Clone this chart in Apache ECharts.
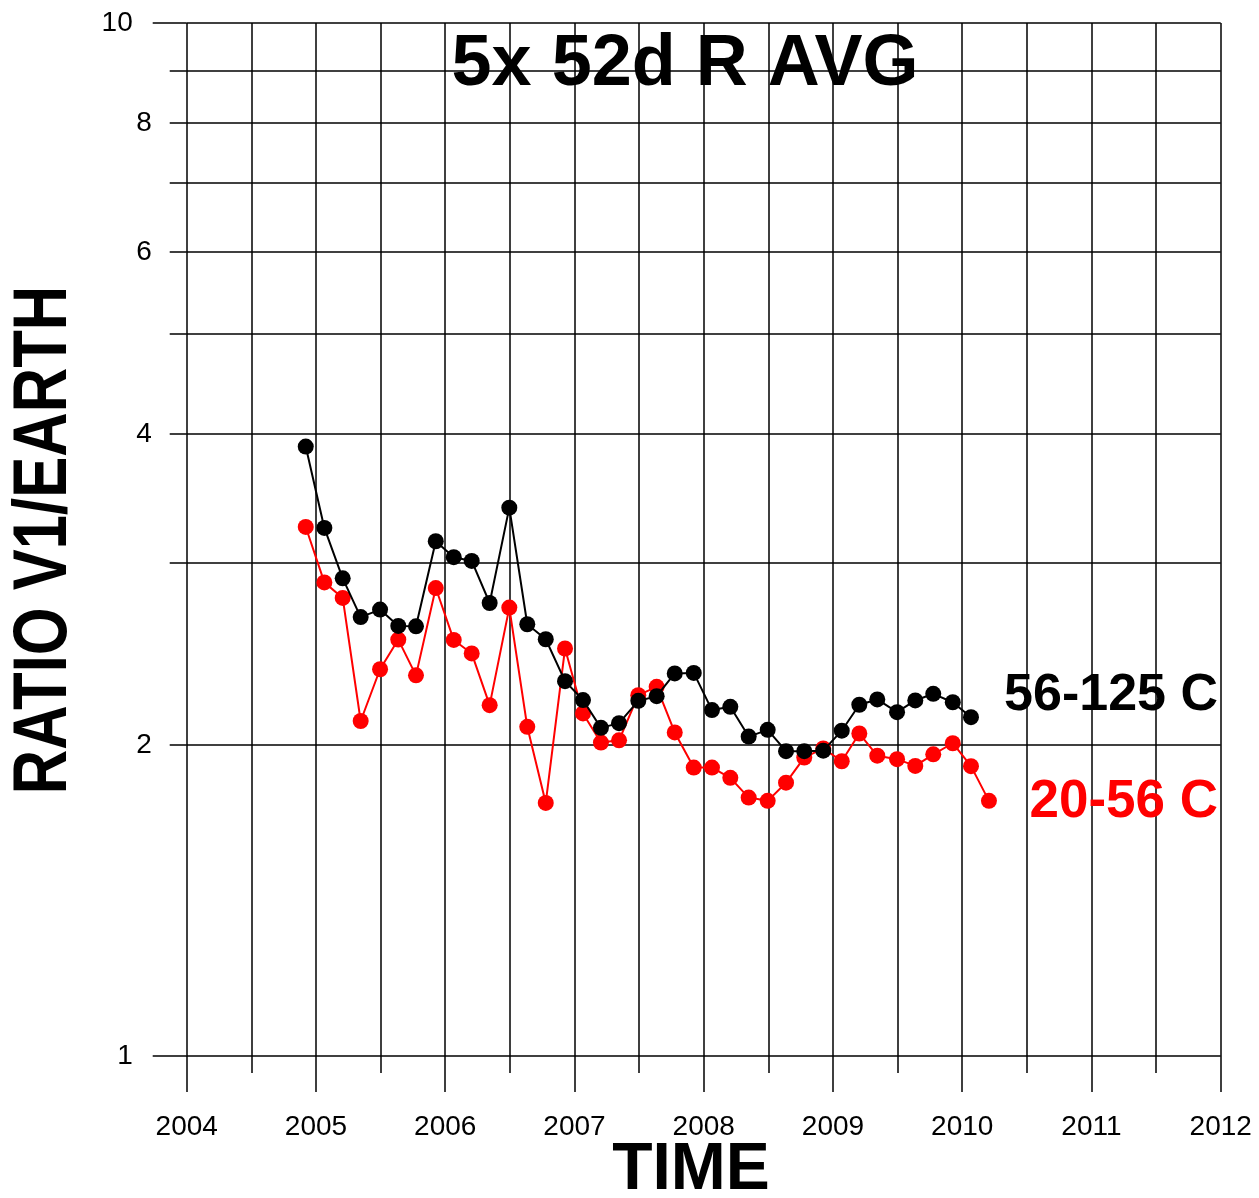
<!DOCTYPE html>
<html>
<head>
<meta charset="utf-8">
<script src="https://cdn.jsdelivr.net/npm/echarts@6/dist/echarts.min.js"></script>
<style>
html,body{margin:0;padding:0;background:#fff;}
#chart{width:1259px;height:1198px;}
</style>
</head>
<body>
<div id="chart"></div>
<script>
// Time of each 52-day average (decimal year)
const dates = [2004.921, 2005.065, 2005.207, 2005.346, 2005.496, 2005.637, 2005.774, 2005.927,
  2006.066, 2006.205, 2006.344, 2006.496, 2006.635, 2006.778, 2006.927, 2007.066,
  2007.205, 2007.345, 2007.494, 2007.636, 2007.776, 2007.923, 2008.064, 2008.206,
  2008.348, 2008.495, 2008.637, 2008.778, 2008.925, 2009.068, 2009.204, 2009.343,
  2009.496, 2009.637, 2009.776, 2009.927, 2010.068, 2010.207];
// 56-125 C ratio (black)
const ratioHigh = [3.89, 3.245, 2.90, 2.66, 2.705, 2.608, 2.606, 3.15,
  3.04, 3.015, 2.745, 3.395, 2.618, 2.532, 2.306, 2.211,
  2.078, 2.10, 2.207, 2.23, 2.346, 2.349, 2.162, 2.178,
  2.038, 2.069, 1.973, 1.973, 1.975, 2.065, 2.188, 2.214,
  2.152, 2.209, 2.242, 2.20, 2.128];
// 20-56 C ratio (red)
const ratioLow = [3.252, 2.874, 2.776, 2.11, 2.368, 2.53, 2.336, 2.838,
  2.528, 2.453, 2.186, 2.717, 2.083, 1.758, 2.48, 2.146,
  2.011, 2.021, 2.235, 2.277, 2.057, 1.902, 1.902, 1.859,
  1.779, 1.766, 1.839, 1.945, 1.985, 1.929, 2.052, 1.953,
  1.938, 1.909, 1.959, 2.008, 1.908, 1.766];
const yTickValues = [1, 2, 3, 4, 5, 6, 7, 8, 9, 10];
const yMinorLabelValues = [2, 4, 6, 8];
const yMajorValues = [1, 10];
const seriesNames = ['20-56 C', '56-125 C'];
const titleText = '5x 52d R AVG';
const xName = 'TIME';
const yName = 'RATIO V1/EARTH';

const FONT = '"Liberation Sans", Arial, Helvetica, sans-serif';
const gridLine = { color: '#000', width: 1.5 };
const labelFmt = v => String(Math.round(v));

const chart = echarts.init(document.getElementById('chart'), null, { renderer: 'canvas' });
chart.setOption({
  backgroundColor: '#fff',
  animation: false,
  grid: { left: 186.7, right: 38.3, top: 23, bottom: 142, containLabel: false },
  xAxis: [{
    type: 'value', min: 2004, max: 2012, interval: 1, position: 'bottom',
    axisLine: { show: false },
    axisTick: { show: true, length: 36, lineStyle: gridLine },
    minorTick: { show: true, splitNumber: 2, length: 17, lineStyle: gridLine },
    splitLine: { show: true, lineStyle: gridLine },
    minorSplitLine: { show: true, lineStyle: gridLine },
    axisLabel: { margin: 57, fontSize: 28, color: '#000', fontFamily: FONT, formatter: labelFmt }
  }],
  yAxis: [{
    type: 'log', logBase: 10, min: 1, max: 10, position: 'left',
    axisLine: { show: false },
    axisTick: { show: true, length: 17, customValues: yTickValues, lineStyle: gridLine },
    splitLine: { show: true, lineStyle: gridLine },
    axisLabel: { customValues: yMinorLabelValues, margin: 35, fontSize: 28, color: '#000', fontFamily: FONT,
      formatter: labelFmt }
  }, {
    type: 'log', logBase: 10, min: 1, max: 10, position: 'left',
    axisLine: { show: false },
    axisTick: { show: true, length: 34, customValues: yMajorValues, lineStyle: gridLine },
    splitLine: { show: false },
    axisLabel: { customValues: yMajorValues, margin: 54, fontSize: 28, color: '#000', fontFamily: FONT,
      formatter: labelFmt }
  }],
  series: [{
    name: seriesNames[0], type: 'line', xAxisIndex: 0, yAxisIndex: 0,
    data: ratioLow.map((v, i) => [dates[i], v]),
    symbol: 'circle', symbolSize: 16,
    lineStyle: { color: '#ff0000', width: 2 },
    itemStyle: { color: '#ff0000' }, z: 3
  }, {
    name: seriesNames[1], type: 'line', xAxisIndex: 0, yAxisIndex: 0,
    data: ratioHigh.map((v, i) => [dates[i], v]),
    symbol: 'circle', symbolSize: 16,
    lineStyle: { color: '#000', width: 2 },
    itemStyle: { color: '#000' }, z: 4
  }],
  graphic: [
    { type: 'text', x: 685, y: 65, z: 10,
      style: { text: titleText, font: 'bold 72px ' + FONT, fill: '#000', textAlign: 'center', textVerticalAlign: 'middle' } },
    { type: 'text', x: 691, y: 1171, z: 10,
      style: { text: xName, font: 'bold 66px ' + FONT, fill: '#000', textAlign: 'center', textVerticalAlign: 'middle' } },
    { type: 'text', x: 45.5, y: 540, rotation: Math.PI / 2, scaleX: 0.81, z: 10,
      style: { text: yName, font: 'bold 76px ' + FONT, fill: '#000', textAlign: 'center', textVerticalAlign: 'middle' } },
    { type: 'text', x: 1218, y: 696, z: 10,
      style: { text: seriesNames[1], font: 'bold 52px ' + FONT, fill: '#000', textAlign: 'right', textVerticalAlign: 'middle' } },
    { type: 'text', x: 1218, y: 802, z: 10,
      style: { text: seriesNames[0], font: 'bold 53px ' + FONT, fill: '#ff0000', textAlign: 'right', textVerticalAlign: 'middle' } }
  ]
});
</script>
</body>
</html>
